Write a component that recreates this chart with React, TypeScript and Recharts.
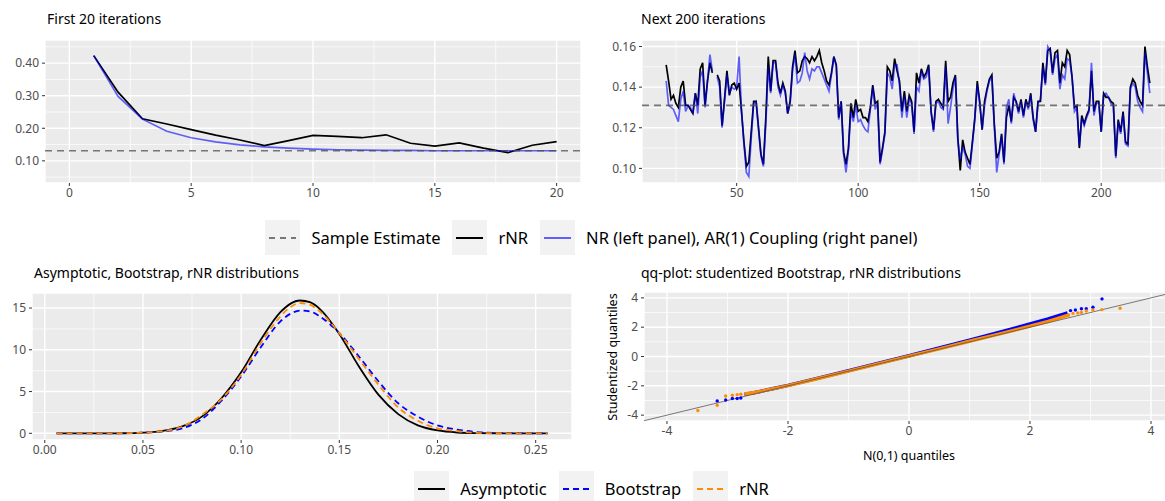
import React from "react";
import {
  ComposedChart,
  Line,
  Scatter,
  XAxis,
  YAxis,
  CartesianGrid,
  ReferenceLine,
} from "recharts";

const FONT = "'Noto Sans', 'Open Sans', sans-serif";
const PANEL_BG = "#EBEBEB";
const TICK = { fill: "#4D4D4D", fontSize: 12, fontFamily: FONT };
const TICK_LINE = { stroke: "#333333" };

// top-left: first 20 iterations
const iterFirst = [1, 2, 3, 4, 5, 6, 7, 8, 9, 10, 11, 12, 13, 14, 15, 16, 17, 18, 19, 20];
const rnrFirst = [
  0.423, 0.311, 0.229, 0.213, 0.196, 0.179, 0.164, 0.147, 0.162, 0.178,
  0.175, 0.171, 0.18, 0.154, 0.145, 0.155, 0.139, 0.125, 0.148, 0.159,
];
const nrFirst = [
  0.423, 0.298, 0.228, 0.191, 0.171, 0.158, 0.149, 0.143, 0.139, 0.136,
  0.134, 0.133, 0.132, 0.132, 0.131, 0.131, 0.131, 0.131, 0.131, 0.131,
];
const sampleEstimate = 0.131;

// top-right: next 200 iterations (21..220), one missing step at 41
const nextStart = 21;
const rnrNext = [
  0.151, 0.143, 0.134, 0.136, 0.132, 0.13, 0.14, 0.143, 0.131, 0.131,
  0.129, 0.127, 0.137, 0.131, 0.149, 0.152, 0.131, 0.143, 0.152, 0.147,
  null, 0.146, 0.143, 0.121, 0.134, 0.148, 0.136, 0.141, 0.142, 0.139,
  0.142, 0.128, 0.113, 0.101, 0.103, 0.118, 0.133, 0.133, 0.12, 0.107,
  0.102, 0.125, 0.155, 0.138, 0.153, 0.153, 0.142, 0.137, 0.142, 0.138,
  0.127, 0.133, 0.15, 0.158, 0.147, 0.148, 0.153, 0.155, 0.154, 0.152,
  0.155, 0.153, 0.155, 0.158, 0.152, 0.148, 0.143, 0.141, 0.147, 0.155,
  0.151, 0.125, 0.133, 0.108, 0.102, 0.11, 0.132, 0.125, 0.134, 0.128,
  0.129, 0.125, 0.125, 0.123, 0.13, 0.141, 0.132, 0.133, 0.103, 0.11,
  0.118, 0.15, 0.148, 0.143, 0.154, 0.148, 0.143, 0.128, 0.138, 0.128,
  0.136, 0.133, 0.118, 0.147, 0.142, 0.149, 0.145, 0.147, 0.151, 0.128,
  0.119, 0.133, 0.134, 0.132, 0.13, 0.153, 0.133, 0.135, 0.142, 0.146,
  0.115, 0.099, 0.114, 0.108, 0.105, 0.102, 0.113, 0.125, 0.143, 0.133,
  0.119, 0.133, 0.139, 0.144, 0.146, 0.122, 0.105, 0.108, 0.117, 0.103,
  0.125, 0.131, 0.123, 0.135, 0.133, 0.128, 0.134, 0.126, 0.134, 0.13,
  0.137, 0.125, 0.118, 0.133, 0.133, 0.152, 0.142, 0.158, 0.159, 0.147,
  0.157, 0.158, 0.142, 0.152, 0.15, 0.158, 0.156, 0.145, 0.13, 0.131,
  0.11, 0.126, 0.122, 0.126, 0.129, 0.148, 0.128, 0.133, 0.133, 0.118,
  0.137, 0.135, 0.135, 0.133, 0.132, 0.106, 0.124, 0.118, 0.128, 0.113,
  0.112, 0.14, 0.144, 0.142, 0.136, 0.133, 0.131, 0.16, 0.15, 0.142,
];
const arNext = [
  0.143, 0.131, 0.13, 0.129, 0.126, 0.123, 0.134, 0.138, 0.128, 0.131,
  0.13, 0.127, 0.137, 0.127, 0.145, 0.148, 0.13, 0.143, 0.156, 0.148,
  null, 0.145, 0.14, 0.12, 0.133, 0.146, 0.137, 0.14, 0.139, 0.14,
  0.155, 0.128, 0.112, 0.098, 0.096, 0.115, 0.132, 0.133, 0.119, 0.106,
  0.101, 0.122, 0.15, 0.137, 0.152, 0.152, 0.14, 0.136, 0.141, 0.137,
  0.127, 0.132, 0.148, 0.156, 0.142, 0.143, 0.147, 0.157, 0.148, 0.144,
  0.149, 0.148, 0.15, 0.15, 0.147, 0.144, 0.141, 0.138, 0.146, 0.155,
  0.15, 0.124, 0.133, 0.107, 0.098, 0.109, 0.128, 0.123, 0.131, 0.123,
  0.124, 0.121, 0.119, 0.118, 0.129, 0.14, 0.129, 0.132, 0.102, 0.109,
  0.117, 0.147, 0.145, 0.139, 0.151, 0.151, 0.141, 0.125, 0.136, 0.125,
  0.134, 0.132, 0.117, 0.14, 0.138, 0.148, 0.144, 0.145, 0.15, 0.128,
  0.118, 0.132, 0.133, 0.13, 0.129, 0.15, 0.122, 0.13, 0.139, 0.145,
  0.114, 0.104, 0.111, 0.107, 0.101, 0.1, 0.112, 0.124, 0.141, 0.132,
  0.119, 0.131, 0.138, 0.143, 0.145, 0.121, 0.098, 0.107, 0.116, 0.102,
  0.13, 0.134, 0.122, 0.137, 0.132, 0.127, 0.133, 0.125, 0.133, 0.129,
  0.136, 0.124, 0.118, 0.132, 0.134, 0.15, 0.141, 0.16, 0.158, 0.146,
  0.154, 0.156, 0.139, 0.146, 0.144, 0.154, 0.153, 0.145, 0.128, 0.13,
  0.111, 0.125, 0.121, 0.125, 0.128, 0.152, 0.126, 0.132, 0.132, 0.118,
  0.136, 0.137, 0.135, 0.132, 0.131, 0.105, 0.123, 0.117, 0.127, 0.112,
  0.111, 0.139, 0.142, 0.14, 0.133, 0.13, 0.128, 0.157, 0.147, 0.137,
];

// bottom-left: densities
const densX = [
  0.006, 0.02, 0.03, 0.04, 0.05, 0.06, 0.07, 0.08, 0.09, 0.1, 0.11, 0.12, 0.125, 0.13,
  0.135, 0.14, 0.15, 0.16, 0.17, 0.18, 0.19, 0.2, 0.21, 0.22, 0.23, 0.24, 0.256,
];
const asymDens = [
  0, 0, 0, 0.01, 0.08, 0.29, 0.83, 2.0, 4.2, 7.3, 11.2, 14.5, 15.5, 15.9,
  15.7, 14.9, 11.9, 8.0, 4.6, 2.3, 0.95, 0.34, 0.1, 0.03, 0.01, 0, 0,
];
const bootDens = [
  0, 0, 0, 0.02, 0.08, 0.22, 0.6, 1.7, 3.9, 6.8, 10.3, 13.4, 14.3, 14.7,
  14.6, 14.0, 12.0, 9.2, 6.2, 3.6, 2.0, 0.95, 0.45, 0.15, 0.04, 0.01, 0,
];
const rnrDens = [
  0, 0, 0, 0.02, 0.08, 0.25, 0.8, 2.2, 4.1, 7.0, 10.8, 14.0, 15.1, 15.6,
  15.4, 14.6, 12.0, 8.9, 5.8, 3.1, 1.5, 0.6, 0.25, 0.05, 0.01, 0, 0,
];

// bottom-right: qq-plot (theoretical N(0,1) quantile, studentized quantile)
const bootBandQ = [-2.72, -2.5, -2.2, -2.0, -1.5, -1.0, -0.5, 0, 0.5, 1.0, 1.5, 2.0, 2.3, 2.62];
const bootBandV = [-2.58, -2.42, -2.15, -1.97, -1.47, -0.97, -0.45, 0.05, 0.58, 1.12, 1.66, 2.22, 2.56, 2.98];
const rnrBandQ = [-2.72, -2.5, -2.2, -2.0, -1.5, -1.0, -0.5, 0, 0.5, 1.0, 1.5, 2.0, 2.3, 2.66];
const rnrBandV = [-2.56, -2.42, -2.16, -1.99, -1.5, -1.0, -0.48, 0.02, 0.52, 1.04, 1.55, 2.07, 2.4, 2.86];
const bootTailQ = [-3.17, -3.03, -2.92, -2.84, -2.78, 2.67, 2.75, 2.85, 2.93, 3.04, 3.19];
const bootTailV = [-3.03, -2.97, -2.87, -2.87, -2.83, 3.13, 3.17, 3.26, 3.26, 3.36, 3.93];
const rnrTailQ = [-3.49, -3.17, -3.03, -2.92, -2.84, -2.78, 2.71, 2.79, 2.85, 2.93, 3.04, 3.19, 3.49];
const rnrTailV = [-3.68, -3.33, -2.69, -2.64, -2.6, -2.57, 2.94, 2.97, 3.01, 3.1, 3.17, 3.2, 3.29];

const firstRows = iterFirst.map((it, k) => ({ iter: it, rnr: rnrFirst[k], nr: nrFirst[k] }));
const nextRows = rnrNext.map((v, k) => ({ iter: nextStart + k, rnr: v, ar: arNext[k] }));
const densRows = densX.map((x, k) => ({ x, asym: asymDens[k], boot: bootDens[k], rnr: rnrDens[k] }));
const pairs = (q: number[], v: number[]) => q.map((x, k) => ({ q: x, v: v[k] }));

const titleStyle: React.CSSProperties = {
  position: "absolute",
  fontFamily: FONT,
  fontSize: 14,
  color: "#000",
  whiteSpace: "nowrap",
};

function Key({ color, dash, opacity = 1 }: { color: string; dash?: string; opacity?: number }) {
  return (
    <div
      style={{
        width: 35,
        height: 35,
        background: "#F2F2F2",
        display: "flex",
        alignItems: "center",
        justifyContent: "center",
      }}
    >
      <svg width={27} height={4}>
        <line x1={0} y1={2} x2={27} y2={2} stroke={color} strokeOpacity={opacity} strokeWidth={2} strokeDasharray={dash} />
      </svg>
    </div>
  );
}

function LegendRow({ items, top }: { items: { label: string; color: string; dash?: string; opacity?: number }[]; top: number }) {
  return (
    <div
      style={{
        position: "absolute",
        top,
        left: 0,
        width: 1195,
        height: 35,
        display: "flex",
        justifyContent: "center",
        fontFamily: FONT,
        fontSize: 16.5,
        lineHeight: "20px",
        color: "#000",
      }}
    >
      {items.map((it) => (
        <div key={it.label} style={{ display: "flex", alignItems: "center", marginRight: 12 }}>
          <Key color={it.color} dash={it.dash} opacity={it.opacity} />
          <span style={{ marginLeft: 11, whiteSpace: "nowrap" }}>{it.label}</span>
        </div>
      ))}
    </div>
  );
}

const axisCommon = {
  axisLine: false,
  tickLine: TICK_LINE,
  tickSize: 3,
  tick: TICK,
};

const dotShape = (color: string) => (p: any) => <circle cx={p.cx} cy={p.cy} r={1.7} fill={color} />;

export default function App() {
  return (
    <div style={{ position: "absolute", left: 0, top: 0, width: 1165, height: 501, overflow: "hidden", background: "#fff" }}>
      <div style={{ ...titleStyle, left: 47, top: 9 }}>First 20 iterations</div>
      <div style={{ ...titleStyle, left: 641, top: 9 }}>Next 200 iterations</div>
      <div style={{ ...titleStyle, left: 34, top: 263 }}>Asymptotic, Bootstrap, rNR distributions</div>
      <div style={{ ...titleStyle, left: 641, top: 263 }}>qq-plot: studentized Bootstrap, rNR distributions</div>

      {/* top-left */}
      <div style={{ position: "absolute", left: 0, top: 20 }}>
        <ComposedChart width={590} height={188} data={firstRows} margin={{ top: 20, right: 9, bottom: 0, left: 0 }}>
          <CartesianGrid fill={PANEL_BG} stroke="#fff" strokeWidth={0.7} horizontalValues={[0.05, 0.15, 0.25, 0.35, 0.45]} verticalValues={[2.5, 7.5, 12.5, 17.5]} />
          <CartesianGrid stroke="#fff" strokeWidth={1.4} />
          <XAxis type="number" dataKey="iter" domain={[-1, 21]} ticks={[0, 5, 10, 15, 20]} height={25} tickMargin={2} {...axisCommon} />
          <YAxis type="number" domain={[0.032, 0.471]} ticks={[0.1, 0.2, 0.3, 0.4]} tickFormatter={(v) => v.toFixed(2)} width={45} tickMargin={3} {...axisCommon} />
          <Line dataKey="rnr" stroke="#000" strokeWidth={1.7} dot={false} isAnimationActive={false} />
          <Line dataKey="nr" stroke="#0000FF" strokeOpacity={0.6} strokeWidth={1.7} dot={false} isAnimationActive={false} />
          <ReferenceLine y={sampleEstimate} stroke="#4D4D4D" strokeOpacity={0.75} strokeWidth={1.6} strokeDasharray="7 5" />
        </ComposedChart>
      </div>

      {/* top-right */}
      <div style={{ position: "absolute", left: 590, top: 20 }}>
        <ComposedChart width={584} height={188} data={nextRows} margin={{ top: 20, right: 0, bottom: 0, left: 0 }}>
          <CartesianGrid fill={PANEL_BG} stroke="#fff" strokeWidth={0.7} horizontalValues={[0.11, 0.13, 0.15]} verticalValues={[25, 75, 125, 175, 225]} />
          <CartesianGrid stroke="#fff" strokeWidth={1.4} />
          <XAxis type="number" dataKey="iter" domain={[11.05, 229.95]} ticks={[50, 100, 150, 200]} height={25} tickMargin={2} {...axisCommon} />
          <YAxis type="number" domain={[0.0928, 0.1632]} ticks={[0.1, 0.12, 0.14, 0.16]} tickFormatter={(v) => v.toFixed(2)} width={52} tickMargin={3} {...axisCommon} />
          <Line dataKey="rnr" stroke="#000" strokeWidth={1.7} dot={false} isAnimationActive={false} />
          <Line dataKey="ar" stroke="#0000FF" strokeOpacity={0.6} strokeWidth={1.7} dot={false} isAnimationActive={false} />
          <ReferenceLine y={sampleEstimate} stroke="#4D4D4D" strokeOpacity={0.75} strokeWidth={1.6} strokeDasharray="7 5" />
        </ComposedChart>
      </div>

      <LegendRow
        top={220}
        items={[
          { label: "Sample Estimate", color: "#4D4D4D", dash: "6 5", opacity: 0.75 },
          { label: "rNR", color: "#000" },
          { label: "NR (left panel), AR(1) Coupling (right panel)", color: "#0000FF", opacity: 0.6 },
        ]}
      />

      {/* bottom-left */}
      <div style={{ position: "absolute", left: 0, top: 270 }}>
        <ComposedChart width={580} height={195} data={densRows} margin={{ top: 23, right: 8, bottom: 0, left: 0 }}>
          <CartesianGrid fill={PANEL_BG} stroke="#fff" strokeWidth={0.7} horizontalValues={[2.5, 7.5, 12.5]} verticalValues={[0.025, 0.075, 0.125, 0.175, 0.225]} />
          <CartesianGrid stroke="#fff" strokeWidth={1.4} />
          <XAxis type="number" dataKey="x" domain={[-0.0065, 0.2685]} ticks={[0, 0.05, 0.1, 0.15, 0.2, 0.25]} tickFormatter={(v) => v.toFixed(2)} height={25} tickMargin={2} {...axisCommon} />
          <YAxis type="number" domain={[-0.8, 16.8]} ticks={[0, 5, 10, 15]} width={32} tickMargin={3} {...axisCommon} />
          <Line type="monotone" dataKey="asym" stroke="#000" strokeWidth={1.8} dot={false} isAnimationActive={false} />
          <Line type="monotone" dataKey="boot" stroke="#0000FF" strokeWidth={1.8} strokeDasharray="6 4" dot={false} isAnimationActive={false} />
          <Line type="monotone" dataKey="rnr" stroke="#FF8C00" strokeWidth={1.8} strokeDasharray="6 4" dot={false} isAnimationActive={false} />
        </ComposedChart>
      </div>

      {/* bottom-right */}
      <div style={{ position: "absolute", left: 590, top: 270 }}>
        <ComposedChart width={584} height={176} margin={{ top: 22, right: 0, bottom: 0, left: 0 }}>
          <CartesianGrid fill={PANEL_BG} stroke="#fff" strokeWidth={0.7} horizontalValues={[-3, -1, 1, 3]} verticalValues={[-3, -1, 1, 3]} />
          <CartesianGrid stroke="#fff" strokeWidth={1.4} />
          <XAxis type="number" dataKey="q" domain={[-4.38, 4.38]} ticks={[-4, -2, 0, 2, 4]} height={25} tickMargin={2} allowDuplicatedCategory={false} {...axisCommon} />
          <YAxis type="number" dataKey="v" domain={[-4.4, 4.4]} ticks={[-4, -2, 0, 2, 4]} width={54} tickMargin={3} {...axisCommon} />
          <Line data={pairs(bootBandQ, bootBandV)} dataKey="v" stroke="#0000FF" strokeWidth={3.4} dot={false} isAnimationActive={false} />
          <Scatter data={pairs(bootTailQ, bootTailV)} dataKey="v" fill="#0000FF" shape={dotShape("#0000FF")} isAnimationActive={false} />
          <Line data={pairs(rnrBandQ, rnrBandV)} dataKey="v" stroke="#FF8C00" strokeWidth={3.4} dot={false} isAnimationActive={false} />
          <Scatter data={pairs(rnrTailQ, rnrTailV)} dataKey="v" fill="#FF8C00" shape={dotShape("#FF8C00")} isAnimationActive={false} />
          <ReferenceLine segment={[{ x: -4.38, y: -4.38 }, { x: 4.38, y: 4.38 }]} stroke="#595959" strokeWidth={0.8} />
        </ComposedChart>
      </div>
      <div
        style={{
          position: "absolute",
          left: 612,
          top: 357,
          transform: "translate(-50%, -50%) rotate(-90deg)",
          fontFamily: FONT,
          fontSize: 12.5,
          whiteSpace: "nowrap",
          color: "#000",
        }}
      >
        Studentized quantiles
      </div>
      <div
        style={{
          position: "absolute",
          left: 909,
          top: 455,
          transform: "translate(-50%, -50%)",
          fontFamily: FONT,
          fontSize: 12.5,
          whiteSpace: "nowrap",
          color: "#000",
        }}
      >
        N(0,1) quantiles
      </div>

      <LegendRow
        top={471}
        items={[
          { label: "Asymptotic", color: "#000" },
          { label: "Bootstrap", color: "#0000FF", dash: "6 4" },
          { label: "rNR", color: "#FF8C00", dash: "6 4" },
        ]}
      />
    </div>
  );
}
